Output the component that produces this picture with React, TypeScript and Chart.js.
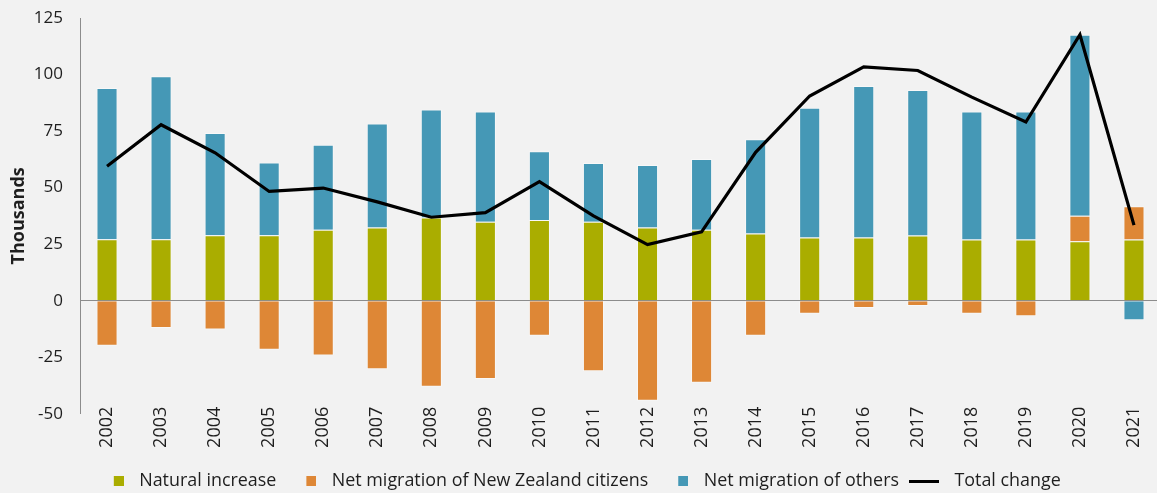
import React, { useEffect, useRef } from "react";
import { Chart, registerables } from "chart.js";

Chart.register(...registerables);

const years = ["2002", "2003", "2004", "2005", "2006", "2007", "2008", "2009", "2010", "2011", "2012", "2013", "2014", "2015", "2016", "2017", "2018", "2019", "2020", "2021"];
const naturalIncrease = [27.2, 27.2, 28.9, 28.9, 31.4, 32.3, 36.8, 34.9, 35.7, 34.9, 32.3, 31.4, 29.7, 27.9, 27.9, 28.8, 27.0, 27.0, 26.3, 27.0];
const nzCitizens = [-19.9, -12.1, -12.8, -21.7, -24.2, -30.3, -38.1, -34.6, -15.5, -31.2, -44.3, -36.3, -15.5, -5.8, -3.2, -2.4, -5.8, -6.9, 11.2, 14.8];
const others = [66.8, 72.0, 45.2, 32.2, 37.5, 46.1, 47.7, 48.7, 30.4, 26.0, 27.7, 31.3, 41.7, 57.4, 67.0, 64.4, 56.6, 56.6, 80.1, -8.7];
const totalChange = [59.4, 77.8, 65.4, 48.3, 49.8, 43.7, 36.9, 38.9, 52.6, 37.5, 24.8, 30.4, 65.6, 90.5, 103.4, 101.8, 90.0, 79.0, 117.6, 33.4];
const yTicks = [-50, -25, 0, 25, 50, 75, 100, 125];

const seriesNames = ["Natural increase", "Net migration of New Zealand citizens", "Net migration of others", "Total change"];
const GREEN = "#aaad00";
const ORANGE = "#de8736";
const BLUE = "#4598b6";
const FONT = "'Open Sans', Lato, sans-serif";
const TEXT = "#1e1e1e";

function makeSwatch(color: string, w: number, h: number, fillX: number, fillW: number) {
  const c = document.createElement("canvas");
  c.width = w;
  c.height = h;
  const ctx = c.getContext("2d")!;
  ctx.fillStyle = color;
  ctx.fillRect(fillX, 0, fillW, h);
  return c;
}

export default function App() {
  const ref = useRef<HTMLCanvasElement | null>(null);
  useEffect(() => {
    document.body.style.margin = "0";
    document.body.style.overflow = "hidden";
    const swatches = [
      makeSwatch(GREEN, 17, 10, 7, 10),
      makeSwatch(ORANGE, 17, 10, 7, 10),
      makeSwatch(BLUE, 17, 10, 7, 10),
      makeSwatch("#000", 51, 3, 4, 30),
    ];
    const colors = [GREEN, ORANGE, BLUE, "#000"];
    const chart = new Chart(ref.current!, {
      type: "bar",
      data: {
        labels: years,
        datasets: [
          {
            type: "line",
            label: seriesNames[3],
            data: totalChange,
            borderColor: "#000",
            borderWidth: 3.2,
            pointRadius: 0,
            tension: 0,
            order: 0,
            stack: "line",
          } as any,
          {
            label: seriesNames[0],
            data: naturalIncrease,
            backgroundColor: GREEN,
            borderColor: "rgba(255,255,255,0.45)",
            borderWidth: 1,
            order: 1,
            stack: "bars",
          },
          {
            label: seriesNames[1],
            data: nzCitizens,
            backgroundColor: ORANGE,
            borderColor: "rgba(255,255,255,0.45)",
            borderWidth: 1,
            order: 1,
            stack: "bars",
          },
          {
            label: seriesNames[2],
            data: others,
            backgroundColor: BLUE,
            borderColor: "rgba(255,255,255,0.45)",
            borderWidth: 1,
            order: 1,
            stack: "bars",
          },
        ],
      },
      options: {
        animation: false,
        responsive: false,
        maintainAspectRatio: false,
        layout: { padding: { top: 18, right: 5, left: 0, bottom: 2 } },
        datasets: { bar: { barPercentage: 0.39, categoryPercentage: 1 } } as any,
        plugins: {
          tooltip: { enabled: false },
          legend: {
            position: "bottom",
            labels: {
              usePointStyle: true,
              pointStyleWidth: 30,
              boxWidth: 30,
              boxHeight: 10,
              padding: 16.5,
              color: TEXT,
              font: { family: FONT, size: 17.9 },
              generateLabels: () =>
                seriesNames.map((name, i) => ({
                  text: name,
                  fillStyle: colors[i],
                  strokeStyle: colors[i],
                  lineWidth: 0,
                  pointStyle: swatches[i] as any,
                  hidden: false,
                  datasetIndex: i === 3 ? 0 : i + 1,
                  fontColor: TEXT,
                })),
            },
          } as any,
        },
        scales: {
          x: {
            stacked: true,
            grid: { display: false, drawTicks: false },
            border: { display: false },
            afterFit: (s: any) => {
              s.height += 14.7;
              s._computeLabelArea = () => undefined;
            },
            ticks: {
              minRotation: 90,
              maxRotation: 90,
              padding: -7,
              color: TEXT,
              font: { family: FONT, size: 18 },
            },
          },
          y: {
            stacked: true,
            min: -50,
            max: 125,
            afterFit: (s: any) => {
              s.width = 80;
              s.paddingTop = 0;
              s.paddingBottom = 0;
            },
            afterBuildTicks: (s: any) => {
              s.ticks = yTicks.map((v) => ({ value: v }));
            },
            grid: {
              drawTicks: false,
              color: (c: any) => (c.tick && c.tick.value === 0 ? "#8c8c8c" : "rgba(0,0,0,0)"),
              lineWidth: 1,
            },
            border: { display: true, color: "#8c8c8c", width: 1 },
            ticks: {
              padding: 17,
              color: TEXT,
              font: { family: FONT, size: 17 },
            },
            title: {
              display: true,
              text: "Thousands",
              color: TEXT,
              font: { family: FONT, size: 18, weight: "bold" },
              padding: { top: 8, bottom: 0 },
            },
          },
        },
      },
    });
    return () => chart.destroy();
  }, []);
  return (
    <div style={{ position: "fixed", left: 0, top: 0, width: 1157, height: 493, overflow: "hidden", background: "#f2f2f2" }}>
      <canvas ref={ref} width={1166} height={502} style={{ width: 1166, height: 502, display: "block" }} />
    </div>
  );
}
